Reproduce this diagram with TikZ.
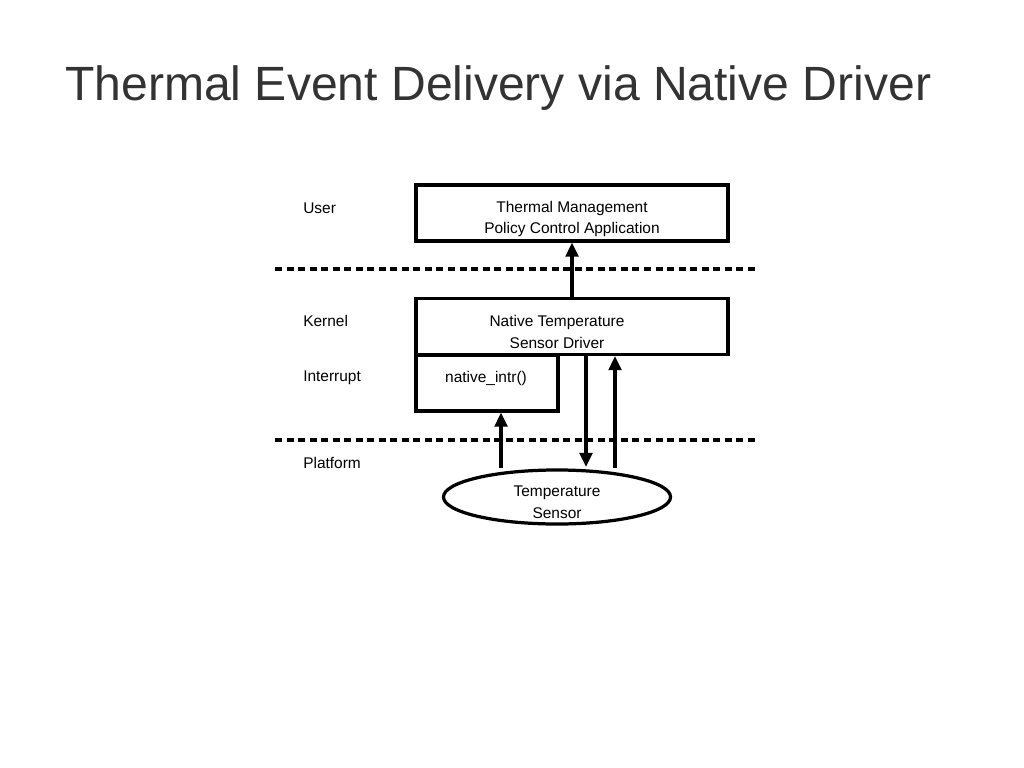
\documentclass[tikz,border=0pt]{standalone}
\usepackage{fontspec}
\setmainfont{Liberation Sans}
\usetikzlibrary{arrows.meta,shapes.geometric}
\definecolor{slideTitle}{HTML}{333333}

\begin{document}
\begin{tikzpicture}[x=0.025cm,y=-0.025cm,
 title/.style={anchor=base west,text=slideTitle,font=\fontsize{34.2}{40}\selectfont,inner sep=0pt},
 layer/.style={anchor=west,font=\fontsize{11}{15.6}\selectfont,inner sep=0pt},
 txt/.style={align=center,font=\fontsize{11}{15.6}\selectfont,inner sep=0pt},
 box/.style={draw,line width=2.3pt,minimum width=7.8cm,minimum height=1.4cm,inner sep=0pt},
 sensor/.style={draw,line width=2.3pt,ellipse,minimum width=5.675cm,minimum height=1.35cm,inner sep=0pt},
 sep/.style={line width=2.3pt,dash pattern=on 5pt off 3.2pt},
 flow/.style={-{Triangle[length=10pt,width=9pt]},line width=2.3pt}
]
\useasboundingbox (0,0) rectangle (1024,768);
\node[title] (head) at (65,101) {Thermal Event Delivery via Native Driver};

\node[layer] (user) at (303,208) {User};
\node[layer] (kern) at (303,321) {Kernel};
\node[layer] (intl) at (303,378) {Interrupt};
\node[layer] (plat) at (303,463) {Platform};

\node[box] (app) at (572,213) {};
\node[txt] (apptxt) at (572,219) {Thermal Management\\Policy Control Application};
\node[box] (drv) at (572,326.5) {};
\node[txt] (drvtxt) at (557,332) {Native Temperature\\Sensor Driver};
\node[box,minimum width=3.55cm] (intr) at (487,383) {};
\node[txt] (intrtxt) at (486,378) {native\_intr()};
\node[sensor] (sens) at (557,497) {};
\node[txt] (senstxt) at (557,502.5) {Temperature\\Sensor};

\coordinate (cutA) at (275,269);
\coordinate (cutB) at (757,269);
\coordinate (cutC) at (275,440);
\coordinate (cutD) at (757,440);
\draw[sep] (cutA) -- (cutB);
\draw[sep] (cutC) -- (cutD);

\coordinate (irq) at (501,468);
\coordinate (rd) at (586,467);
\coordinate (wr) at (615,468);
\draw[flow] (drv.north) -- (app.south);
\draw[flow] (irq) -- (irq |- intr.south);
\draw[flow] (rd |- drv.south) -- (rd);
\draw[flow] (wr) -- (wr |- drv.south);
\end{tikzpicture}
\end{document}
